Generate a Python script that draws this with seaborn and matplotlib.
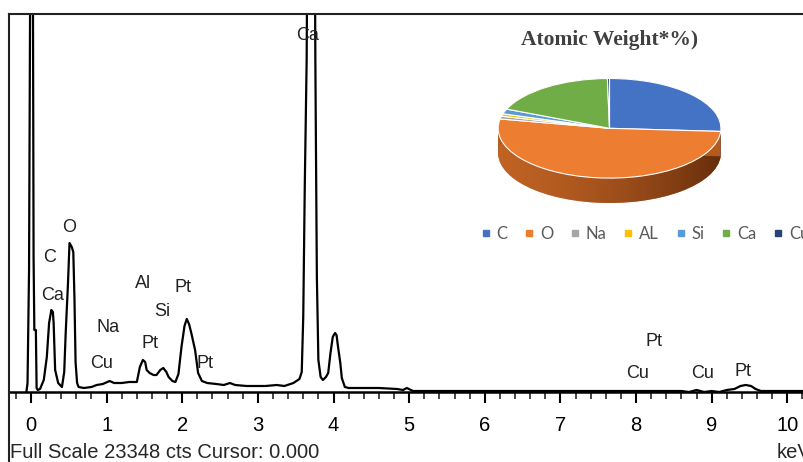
import matplotlib
matplotlib.use("Agg")
import matplotlib.pyplot as plt
from matplotlib.lines import Line2D
from matplotlib.ticker import MultipleLocator
from matplotlib.colors import LinearSegmentedColormap
import numpy as np
import pandas as pd
import seaborn as sns

# EDS spectrum: energy (keV) and intensity (arbitrary units, 378 = full height)
energy = [-0.06, -0.045, -0.025, 0.0, 0.02, 0.035, 0.045, 0.065, 0.075, 0.09, 0.12, 0.17,
          0.21, 0.24, 0.27, 0.29, 0.30, 0.32, 0.36, 0.41, 0.44, 0.46, 0.49, 0.51, 0.54,
          0.56, 0.575, 0.59, 0.61, 0.63, 0.70, 0.80, 0.87, 0.95, 1.04, 1.10, 1.20, 1.30,
          1.40, 1.44, 1.48, 1.51, 1.53, 1.57, 1.62, 1.66, 1.71, 1.75, 1.79, 1.82, 1.87,
          1.91, 1.95, 1.99, 2.03, 2.06, 2.09, 2.12, 2.17, 2.21, 2.26, 2.33, 2.45, 2.55,
          2.63, 2.70, 2.85, 2.94, 3.10, 3.25, 3.35, 3.47, 3.55, 3.58, 3.60, 3.62, 3.645,
          3.665, 3.745, 3.76, 3.77, 3.78, 3.80, 3.83, 3.86, 3.90, 3.93, 3.96, 3.99, 4.02,
          4.04, 4.06, 4.09, 4.11, 4.15, 4.20, 4.60, 4.84, 4.92, 4.97, 5.05, 5.50, 6.50,
          7.50, 8.60, 8.70, 8.80, 8.90, 9.00, 9.10, 9.20, 9.30, 9.38, 9.45, 9.52, 9.58,
          9.65, 10.20]
intensity = [0, 9, 122, 600, 600, 134, 62, 62, 4, 2, 3, 12,
             35, 69, 82, 80, 69, 22, 9, 5, 20, 60, 109, 149, 145,
             140, 95, 30, 9, 5, 4, 5, 7, 8, 11, 9, 9, 10,
             10, 25, 32, 30, 22, 19, 17, 17, 22, 24, 20, 15, 11,
             10, 18, 45, 66, 73, 68, 59, 42, 19, 11, 9, 8, 7,
             9, 7, 6, 6, 6, 7, 6, 9, 13, 20, 75, 205, 332,
             600, 600, 332, 222, 115, 32, 15, 12, 15, 19, 39, 55, 59,
             57, 45, 29, 14, 5, 4, 4, 3, 2, 4, 1, 1, 1,
             1, 1, 0, 2, 0, 1, 0, 2, 3, 6, 7, 6, 3,
             1, 1]

peak_labels = ["Ca", "O", "C", "Ca", "Al", "Pt", "Si", "Na", "Pt", "Cu", "Pt",
               "Pt", "Cu", "Cu", "Pt"]
peak_x = [3.66, 0.50, 0.25, 0.29, 1.48, 2.01, 1.73, 1.02, 1.57, 0.93, 2.30,
          8.24, 8.02, 8.88, 9.42]
peak_y = [356, 164, 134, 97, 109, 105, 80, 65, 49, 28, 28,
          50, 18, 18, 21]

# inset pie: atomic %
elements = ["C", "O", "Na", "AL", "Si", "Ca", "Cu"]
atomic_pct = [26.0, 52.0, 0.9, 0.8, 1.6, 18.4, 0.3]
pie_colors = ["#4472C4", "#ED7D31", "#A5A5A5", "#FFC000", "#5B9BD5", "#70AD47", "#264478"]
side_colors = ["#2F5597", "#B35A1F", "#7B7B7B", "#BF9000", "#2E75B6", "#548235", "#1A2F54"]

sns.set_style("ticks")
plt.rcParams["font.family"] = ["Liberation Sans", "DejaVu Sans"]

W, H = 804, 462
fig = plt.figure(figsize=(W / 100, H / 100), dpi=100)

# main spectrum
ax = fig.add_axes([9 / W, 1 - 392 / H, 1 - 9 / W, (392 - 14) / H])
df = pd.DataFrame({"keV": energy, "cts": intensity})
sns.lineplot(data=df, x="keV", y="cts", color="black", lw=1.6, ax=ax,
             sort=False, estimator=None)
ax.set_xlim(-0.29, 10.22)
ax.set_ylim(0, 378)
ax.set_xlabel("")
ax.set_ylabel("")
ax.set_yticks([])
ax.xaxis.set_major_locator(MultipleLocator(1))
ax.xaxis.set_minor_locator(MultipleLocator(0.2))
ax.tick_params(axis="x", which="major", length=8, width=1.5, direction="out",
               labelsize=14.5, pad=9, colors="black")
ax.tick_params(axis="x", which="minor", length=5, width=1.2, direction="out")
ax.spines["right"].set_visible(False)
for s in ["left", "top"]:
    ax.spines[s].set_linewidth(1.5)
    ax.spines[s].set_color("#222222")
ax.spines["bottom"].set_linewidth(1.8)
ax.spines["bottom"].set_color("black")

for lab, x, y in zip(peak_labels, peak_x, peak_y):
    ax.text(x, y, lab, ha="center", va="center", fontsize=13, color="#222222")

# left frame line runs down past the axis
fig.add_artist(Line2D([9 / W, 9 / W], [0, 1 - 392 / H], transform=fig.transFigure,
                      color="#222222", lw=1.5))

fig.text(9 / W + 0.001, 1 - 453 / H, "Full Scale 23348 cts Cursor: 0.000",
         fontsize=14.5, va="center", ha="left")
fig.text(777 / W, 1 - 453 / H, "keV", fontsize=14.5, va="center", ha="left")

# inset 3D-looking pie
depth = 0.5
pax = fig.add_axes([497 / W, 1 - 203 / H, 225 / W, 125 / H])
n_layers = 24
deep_wedges = None
for i in range(n_layers):
    d = depth * (1 - i / (n_layers - 1))
    wedges, _ = pax.pie(atomic_pct, colors=side_colors, startangle=90, counterclock=False,
                        center=(0, -d), wedgeprops=dict(linewidth=0, zorder=1))
    if i == 0:
        deep_wedges = wedges
grad_cmap = LinearSegmentedColormap.from_list(
    "side", [(0.85, 0.45, 0.18, 0.35), (0.30, 0.12, 0.02, 0.75)])
im = pax.imshow(np.linspace(0, 1, 256).reshape(1, -1), cmap=grad_cmap, aspect="auto",
                extent=(-1, 1, -1.5, 0.5), zorder=2)
im.set_clip_path(deep_wedges[1])
pax.pie(atomic_pct, colors=pie_colors, startangle=90, counterclock=False,
        wedgeprops=dict(edgecolor="white", linewidth=0.8, zorder=3))
pax.set_aspect("auto")
pax.set_xlim(-1.01, 1.01)
pax.set_ylim(-1 - depth, 1.01)
pax.axis("off")

fig.text(610 / W, 1 - 40 / H, "Atomic Weight*%)", ha="center", va="center",
         fontsize=15.5, fontweight="bold", family=["Liberation Serif", "DejaVu Serif"],
         color="#404040")

handles = [Line2D([], [], marker="s", ls="none", color=c, markersize=5) for c in pie_colors]
fig.legend(handles, elements, ncol=7, loc="center left",
           bbox_to_anchor=(465 / W, 1 - 234 / H), frameon=False,
           prop=dict(family=["Lato", "DejaVu Sans"], size=12),
           handlelength=0.7, handletextpad=0.3, columnspacing=0.95, labelcolor="#595959")

fig.savefig("out.png", dpi=100)
